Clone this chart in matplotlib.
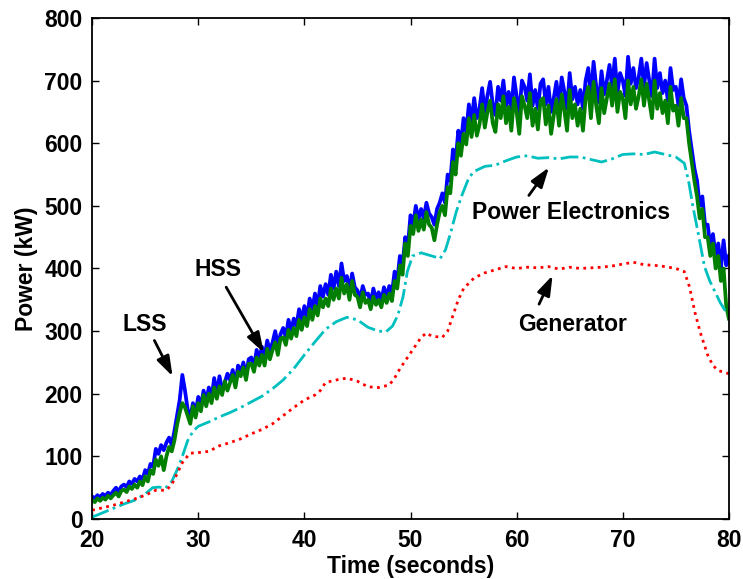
import numpy as np
import matplotlib
matplotlib.use("Agg")
import matplotlib.pyplot as plt

# LSS / HSS power, sampled every 0.25 s from 20 s to 80 s
lss_power = [
    36, 33, 38, 35, 40, 37, 42, 39, 45, 50, 44, 52, 55, 51, 60, 56,
    64, 60, 68, 63, 78, 72, 88, 84, 112, 104, 118, 110, 122, 130, 118, 140,
    165, 190, 230, 205, 175, 162, 185, 170, 195, 180, 205, 188, 210, 192, 225, 200,
    228, 205, 218, 232, 222, 238, 215, 245, 235, 250, 228, 255, 258, 242, 270, 255,
    275, 258, 285, 268, 282, 300, 278, 295, 305, 290, 318, 300, 320, 308, 335, 318,
    340, 322, 352, 335, 360, 340, 372, 355, 375, 358, 390, 368, 395, 372, 408, 380,
    388, 365, 392, 370, 365, 350, 372, 358, 360, 345, 368, 352, 362, 348, 370, 355,
    372, 360, 395, 380, 420, 405, 450, 435, 485, 470, 500, 478, 495, 480, 505, 488,
    482, 470, 495, 505, 520, 505, 550, 540, 590, 570, 620, 600, 640, 618, 662, 635,
    672, 640, 655, 688, 650, 676, 698, 662, 645, 690, 668, 700, 660, 682, 652, 705,
    675, 648, 700, 690, 668, 710, 660, 685, 655, 695, 702, 662, 690, 650, 672, 698,
    660, 705, 682, 655, 712, 670, 690, 662, 685, 655, 700, 720, 672, 730, 690, 665,
    715, 678, 700, 725, 690, 735, 680, 712, 700, 676, 738, 695, 720, 688, 705, 735,
    690, 728, 700, 675, 735, 688, 712, 680, 700, 668, 720, 685, 690, 660, 702, 672,
    660, 620, 590, 560, 540, 500, 515, 470, 470, 435, 455, 420, 440, 400, 445, 405,
    420,
]
hss_power = [
    30, 27, 33, 29, 34, 31, 37, 33, 38, 42, 36, 45, 47, 43, 52, 48,
    55, 50, 60, 54, 68, 60, 78, 72, 95, 85, 100, 78, 100, 115, 108, 125,
    150, 170, 185, 178, 165, 152, 180, 162, 185, 172, 198, 180, 200, 185, 210, 192,
    212, 198, 220, 205, 218, 230, 210, 235, 228, 242, 222, 248, 248, 235, 258, 245,
    262, 245, 272, 255, 270, 282, 262, 288, 290, 278, 302, 288, 305, 292, 318, 302,
    322, 308, 335, 318, 340, 325, 352, 338, 352, 340, 368, 350, 368, 352, 385, 360,
    375, 350, 380, 358, 355, 338, 362, 345, 350, 335, 355, 342, 350, 338, 358, 345,
    360, 348, 380, 368, 405, 390, 440, 420, 468, 455, 485, 460, 478, 462, 490, 470,
    465, 445, 470, 490, 500, 485, 530, 520, 570, 550, 600, 580, 615, 598, 640, 610,
    645, 612, 630, 662, 625, 650, 668, 632, 618, 662, 640, 675, 632, 658, 620, 672,
    650, 615, 675, 660, 640, 680, 628, 655, 622, 668, 672, 630, 660, 615, 645, 670,
    628, 678, 652, 620, 685, 640, 662, 628, 655, 620, 672, 690, 640, 698, 660, 632,
    688, 648, 672, 695, 660, 702, 650, 682, 672, 640, 700, 662, 690, 655, 675, 702,
    660, 695, 668, 640, 700, 655, 680, 648, 668, 632, 690, 652, 660, 628, 672, 640,
    640, 600, 570, 540, 515, 480, 495, 450, 450, 420, 440, 400, 420, 380, 400, 340,
    320,
]
noisy_time = np.arange(len(lss_power)) * 0.25 + 20

pe_time = [20, 21, 22, 23, 24, 25, 25.7, 26.3, 26.9, 27.5, 28, 28.5, 29, 29.5, 30,
           31, 32, 33, 34, 35, 36, 37, 38, 39, 40, 41, 42, 43, 44, 45, 46, 47, 47.7,
           48.3, 48.8, 49.3, 49.7, 50.2, 51, 52, 52.8, 53.3, 53.8, 54.3, 54.8, 55.5,
           56, 57, 58, 59, 60, 61, 62, 63, 64, 65, 66, 67, 68, 69, 70, 71, 72, 73,
           74, 75, 75.8, 76.2, 76.6, 77.1, 77.7, 78.2, 78.6, 79.2, 79.6, 80]
pe_power = [3, 10, 17, 24, 30, 40, 50, 51, 49, 60, 78, 100, 125, 140, 148,
            155, 163, 170, 178, 187, 196, 208, 222, 240, 262, 283, 303, 315, 322, 318, 306, 300, 299,
            308, 325, 355, 395, 420, 425, 420, 416, 430, 458, 490, 515, 545,
            555, 563, 565, 572, 578, 580, 576, 577, 575, 578, 578, 574, 570, 575, 582, 583, 582, 586,
            582, 578, 568, 540, 500, 457, 403, 380, 366, 345, 334, 329]

gen_time = [20, 22, 24, 25, 26, 27, 27.5, 28, 28.5, 29.2, 30, 31, 32, 33, 34, 35, 36,
            37, 38, 39, 40, 41, 41.5, 42, 43, 44, 45, 46, 47, 48, 48.5, 49, 50, 51,
            51.5, 52, 53, 53.5, 54, 54.5, 55, 56, 57, 58, 59, 60, 61, 62, 63, 64, 65,
            66, 67, 68, 69, 70, 71, 72, 73, 74, 75, 75.8, 76.3, 76.8, 77.3, 78, 78.5, 79, 80]
gen_power = [14, 22, 32, 38, 46, 46, 55, 72, 90, 105, 106, 108, 117, 122, 128, 136, 143,
             152, 165, 178, 190, 198, 205, 218, 222, 225, 220, 211, 210, 214, 225, 240, 265, 290,
             297, 292, 290, 300, 325, 350, 368, 385, 393, 398, 403, 400, 402, 401, 403, 399, 402,
             400, 401, 402, 404, 407, 410, 406, 405, 403, 400, 395, 370, 330, 298, 262, 245, 237, 232]

plt.rcParams['font.family'] = ['Liberation Sans', 'DejaVu Sans']
plt.rcParams['font.weight'] = 'bold'
plt.rcParams['font.size'] = 16.5

fig = plt.figure(figsize=(7.43, 5.79), dpi=100)
ax = fig.add_axes([0.124, 0.1036, 0.857, 0.8654])

ax.plot(noisy_time, lss_power, color='#0000ff', lw=2.7)
ax.plot(noisy_time, hss_power, color='#007f00', lw=2.7)
ax.plot(pe_time, pe_power, color='#00bfbf', lw=2.0, linestyle='-.')
ax.plot(gen_time, gen_power, color='#ff0000', lw=2.0, linestyle=(0, (1, 1.6)))

ax.set_xlim(20, 80)
ax.set_ylim(0, 800)
ax.set_xticks(np.arange(20, 81, 10))
ax.set_yticks(np.arange(0, 801, 100))
ax.tick_params(direction='in', length=5, width=1, top=True, right=True, pad=7)
for s in ax.spines.values():
    s.set_linewidth(1.3)
ax.set_xlabel('Time (seconds)', fontweight='bold', labelpad=2)
ax.set_ylabel('Power (kW)', fontweight='bold', labelpad=4)

# thin shaft, long narrow head (like the MATLAB annotation arrows)
arrow = dict(arrowstyle='-|>,head_length=0.6,head_width=0.2', color='black', lw=2, mutation_scale=20)
ax.annotate('', xy=(27.7, 224), xytext=(25.75, 289), arrowprops=arrow)
ax.text(25.0, 310, 'LSS', ha='center', va='center', fontweight='bold')
ax.annotate('', xy=(36.3, 262), xytext=(32.5, 374), arrowprops=arrow)
ax.text(31.9, 398, 'HSS', ha='center', va='center', fontweight='bold')
ax.annotate('', xy=(63.2, 565), xytext=(61.0, 513), arrowprops=arrow)
ax.text(65.1, 489, 'Power Electronics', ha='center', va='center', fontweight='bold')
ax.annotate('', xy=(63.5, 393), xytext=(62.0, 339), arrowprops=arrow)
ax.text(65.3, 310, 'Generator', ha='center', va='center', fontweight='bold')

fig.savefig('out.png', dpi=100)
